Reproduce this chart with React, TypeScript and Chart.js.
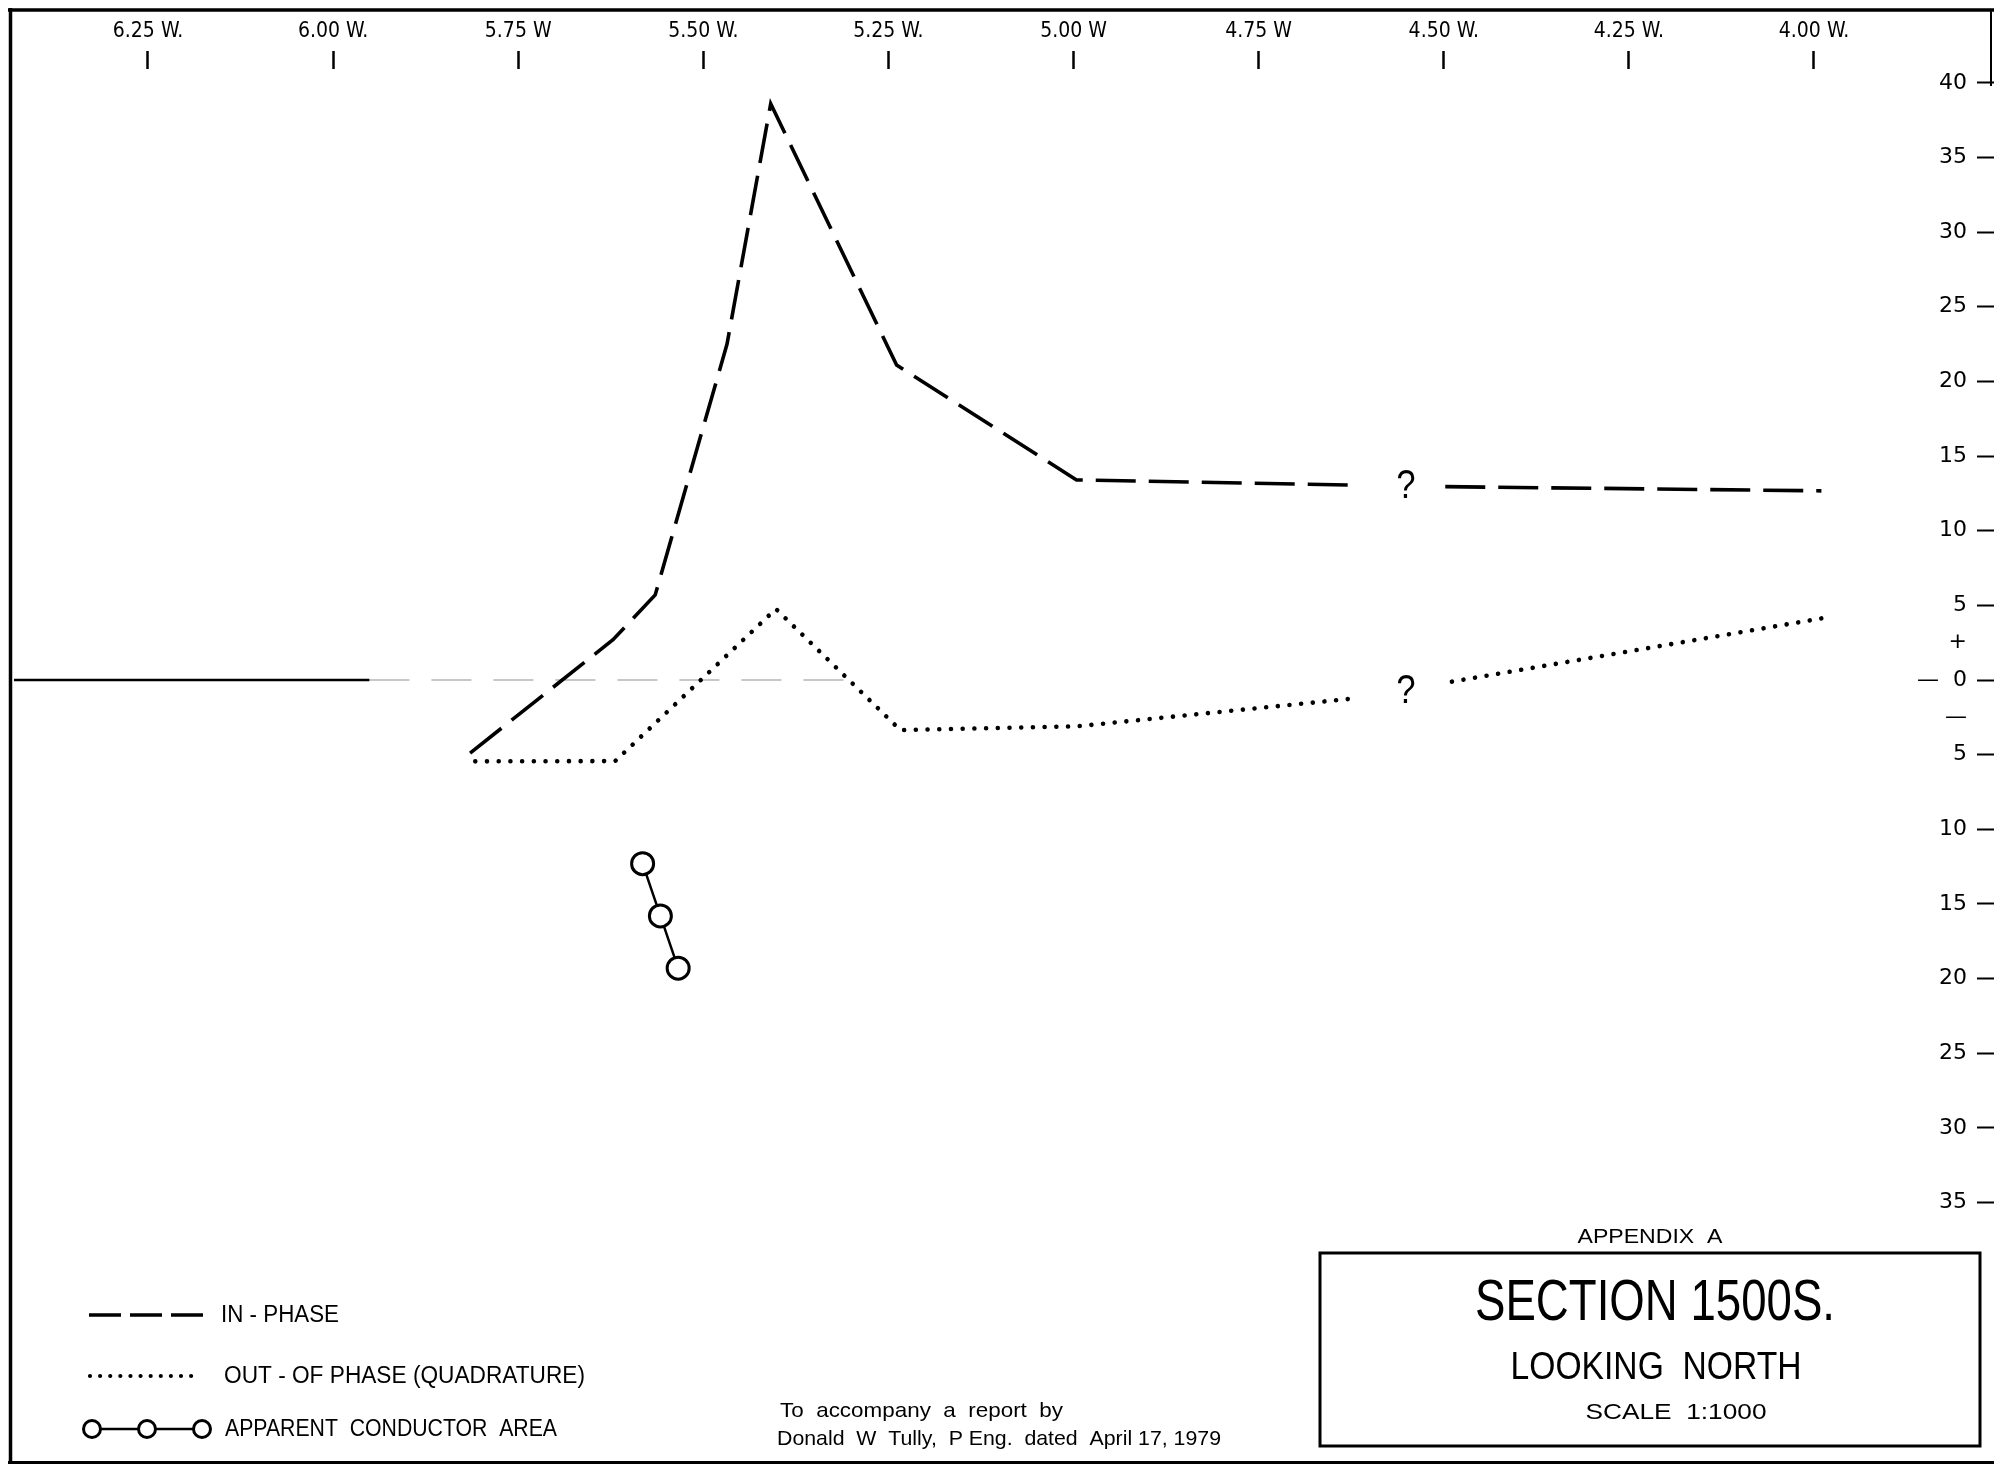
import React, { useEffect, useRef } from 'react';
import { Chart, registerables } from 'chart.js';

Chart.register(...registerables);

const CANVAS_W = 1994;
const CANVAS_H = 1467;

// ---- data (stations in W, response in %) ----
const xTickValues = [6.25, 6.0, 5.75, 5.5, 5.25, 5.0, 4.75, 4.5, 4.25, 4.0];
const xTickLabels = ['6.25 W.', '6.00 W.', '5.75 W', '5.50 W.', '5.25 W.', '5.00 W', '4.75 W', '4.50 W.', '4.25 W.', '4.00 W.'];

const yTickValues = [40, 35, 30, 25, 20, 15, 10, 5, 2.5, 0, -2.5, -5, -10, -15, -20, -25, -30, -35];
const yTickLabels = ['40', '35', '30', '25', '20', '15', '10', '5', '+', '—  0', '—', '5', '10', '15', '20', '25', '30', '35'];

const inPhaseStations = [5.815, 5.622, 5.565, 5.468, 5.409, 5.239, 4.996, 4.62, 4.551, 4.498, 3.99];
const inPhaseValues = [-4.9, 2.7, 5.7, 22.5, 38.6, 21.1, 13.4, 13.05, null, 12.95, 12.67];

const outPhaseStations = [5.808, 5.619, 5.402, 5.234, 4.995, 4.62, 4.551, 4.489, 3.987];
const outPhaseValues = [-5.45, -5.43, 4.76, -3.35, -3.1, -1.23, null, -0.11, 4.15];

const conductorStations = [5.582, 5.558, 5.534];
const conductorDepths = [-12.3, -15.8, -19.3];

const zeroSolidStations = [6.5, 5.951];
const zeroFaintStations = [5.951, 5.282];
const zeroValues = [0, 0];

const questionStation = 4.551;
const questionValues = [12.95, -0.8];

// axis calibration (sheet layout): where the first/last station ticks and the zero line sit
const X_FIRST_PX = 148;
const X_LAST_PX = 1814;
const Y_ZERO_PX = 680;
const Y_PX_PER_UNIT = 14.93;

const toPoints = (xs: number[], ys: (number | null)[]) => xs.map((x, i) => ({ x, y: ys[i] }));

const FONT = '"Liberation Sans", Arial, sans-serif';

function drawFit(ctx: CanvasRenderingContext2D, text: string, x: number, y: number, w: number, size: number, align: 'left' | 'center') {
  ctx.save();
  ctx.font = `${size}px ${FONT}`;
  const m = ctx.measureText(text).width;
  const sx = w / m;
  ctx.textBaseline = 'middle';
  ctx.textAlign = 'left';
  const left = align === 'center' ? x - w / 2 : x;
  ctx.translate(left, y);
  ctx.scale(sx, 1);
  ctx.fillStyle = '#000';
  ctx.fillText(text, 0, 0);
  ctx.restore();
}

const calibratePlugin = {
  id: 'calibrate',
  afterLayout(chart: any) {
    const xs = chart.scales.x;
    const ys = chart.scales.y;
    const first = xTickValues[0];
    const last = xTickValues[xTickValues.length - 1];
    const pxPerW = (X_LAST_PX - X_FIRST_PX) / (first - last);
    xs.max = first + (X_FIRST_PX - xs.left) / pxPerW;
    xs.min = xs.max - (xs.right - xs.left) / pxPerW;
    xs.configure();
    ys.max = (Y_ZERO_PX - ys.top) / Y_PX_PER_UNIT;
    ys.min = -(ys.bottom - Y_ZERO_PX) / Y_PX_PER_UNIT;
    ys.configure();
  },
};

const decorPlugin = {
  id: 'decor',
  afterDraw(chart: any) {
    const ctx: CanvasRenderingContext2D = chart.ctx;
    const xs = chart.scales.x;
    const ys = chart.scales.y;
    ctx.save();
    ctx.strokeStyle = '#000';
    ctx.fillStyle = '#000';

    // sheet frame
    ctx.lineWidth = 3.5;
    ctx.beginPath();
    ctx.moveTo(10.5, 8);
    ctx.lineTo(10.5, 1464);
    ctx.moveTo(8, 10);
    ctx.lineTo(1994, 10);
    ctx.stroke();
    ctx.lineWidth = 3;
    ctx.beginPath();
    ctx.moveTo(8, 1462.5);
    ctx.lineTo(1994, 1462.5);
    ctx.stroke();
    ctx.lineWidth = 2;
    ctx.beginPath();
    ctx.moveTo(1991, 9);
    ctx.lineTo(1991, 86);
    ctx.stroke();

    // question marks at the data gaps
    const qx = xs.getPixelForValue(questionStation);
    questionValues.forEach((v) => {
      const qy = ys.getPixelForValue(v);
      drawFit(ctx, '?', qx, qy, 19, 40, 'center');
    });

    // legend
    ctx.lineCap = 'butt';
    ctx.lineWidth = 3.6;
    ctx.setLineDash([32, 9]);
    ctx.beginPath();
    ctx.moveTo(89, 1315);
    ctx.lineTo(203, 1315);
    ctx.stroke();

    ctx.lineCap = 'round';
    ctx.lineWidth = 4.2;
    ctx.setLineDash([0.01, 10.1]);
    ctx.beginPath();
    ctx.moveTo(90, 1376);
    ctx.lineTo(201, 1376);
    ctx.stroke();
    ctx.setLineDash([]);
    ctx.lineCap = 'butt';

    ctx.lineWidth = 2.5;
    ctx.beginPath();
    ctx.moveTo(92, 1429);
    ctx.lineTo(202, 1429);
    ctx.stroke();
    [92, 147, 202].forEach((cx) => {
      ctx.beginPath();
      ctx.arc(cx, 1429, 8.5, 0, Math.PI * 2);
      ctx.fillStyle = '#fff';
      ctx.fill();
      ctx.lineWidth = 3;
      ctx.stroke();
    });
    ctx.fillStyle = '#000';

    drawFit(ctx, 'IN - PHASE', 221, 1316, 118, 23, 'left');
    drawFit(ctx, 'OUT - OF PHASE (QUADRATURE)', 224, 1377, 361, 23, 'left');
    drawFit(ctx, 'APPARENT  CONDUCTOR  AREA', 225, 1430, 332, 23, 'left');

    // note
    drawFit(ctx, 'To  accompany  a  report  by', 780, 1411, 283, 21, 'left');
    drawFit(ctx, 'Donald  W  Tully,  P Eng.  dated  April 17, 1979', 777, 1439, 444, 21, 'left');

    // title block
    drawFit(ctx, 'APPENDIX  A', 1650, 1237, 145, 21, 'center');
    ctx.lineWidth = 3;
    ctx.strokeRect(1320, 1253, 660, 193);
    drawFit(ctx, 'SECTION 1500S.', 1655, 1304, 360, 58, 'center');
    drawFit(ctx, 'LOOKING  NORTH', 1656, 1368, 291, 39, 'center');
    drawFit(ctx, 'SCALE  1:1000', 1676, 1413, 181, 22, 'center');

    ctx.restore();
  },
};

export default function App() {
  const ref = useRef<HTMLCanvasElement>(null);

  useEffect(() => {
    const canvas = ref.current;
    if (!canvas) return;
    const chart = new Chart(canvas, {
      type: 'line',
      data: {
        datasets: [
          {
            label: 'APPARENT CONDUCTOR AREA',
            data: toPoints(conductorStations, conductorDepths),
            borderColor: '#000',
            borderWidth: 2.5,
            pointRadius: 11,
            pointBorderWidth: 3,
            pointBackgroundColor: '#fff',
            pointBorderColor: '#000',
            tension: 0,
          },
          {
            label: 'IN-PHASE',
            data: toPoints(inPhaseStations, inPhaseValues),
            borderColor: '#000',
            borderWidth: 3.6,
            borderDash: [40, 13],
            pointRadius: 0,
            spanGaps: false,
            tension: 0,
          },
          {
            label: 'OUT-OF PHASE (QUADRATURE)',
            data: toPoints(outPhaseStations, outPhaseValues),
            borderColor: '#000',
            borderWidth: 4.6,
            borderDash: [0.01, 11.7],
            borderCapStyle: 'round',
            pointRadius: 0,
            spanGaps: false,
            tension: 0,
          },
          {
            label: 'zero',
            data: toPoints(zeroSolidStations, zeroValues),
            borderColor: '#000',
            borderWidth: 2.5,
            pointRadius: 0,
          },
          {
            label: 'zero-faint',
            data: toPoints(zeroFaintStations, zeroValues),
            borderColor: '#b5b5b5',
            borderWidth: 1.5,
            borderDash: [40, 22],
            pointRadius: 0,
          },
        ],
      },
      options: {
        responsive: false,
        maintainAspectRatio: false,
        animation: false,
        devicePixelRatio: 1,
        events: [],
        layout: { padding: { top: 17, right: 0, bottom: 20, left: 0 } },
        plugins: {
          legend: { display: false },
          tooltip: { enabled: false },
          title: { display: false },
        },
        scales: {
          x: {
            type: 'linear',
            position: 'top',
            reverse: true,
            min: 3.78,
            max: 6.45,
            afterBuildTicks: (s: any) => {
              s.ticks = xTickValues.map((v) => ({ value: v }));
            },
            afterFit: (s: any) => {
              s.height = 52;
              s.paddingLeft = 0;
              s.paddingRight = 0;
            },
            ticks: {
              autoSkip: false,
              maxRotation: 0,
              padding: 7,
              color: '#000',
              font: { family: '"DejaVu Sans Condensed", "Liberation Sans", sans-serif', size: 21 },
              callback: (_v: any, i: number) => xTickLabels[i],
            },
            grid: {
              drawOnChartArea: false,
              drawTicks: true,
              tickLength: 18,
              tickWidth: 2.5,
              tickColor: '#000',
            },
            border: { display: false },
          },
          y: {
            type: 'linear',
            position: 'right',
            min: -51.4,
            max: 40.9,
            afterBuildTicks: (s: any) => {
              s.ticks = yTickValues.map((v) => ({ value: v }));
            },
            afterFit: (s: any) => {
              s.width = 17;
              s.paddingTop = 0;
              s.paddingBottom = 0;
            },
            ticks: {
              mirror: true,
              padding: -10,
              autoSkip: false,
              color: '#000',
              font: { family: '"DejaVu Sans", sans-serif', size: 22 },
              callback: (_v: any, i: number) => yTickLabels[i],
            },
            grid: {
              drawOnChartArea: false,
              drawTicks: true,
              tickLength: 17,
              tickWidth: 2,
              tickColor: (c: any) => (c.tick && Math.abs(c.tick.value) === 2.5 ? 'rgba(0,0,0,0)' : '#000'),
            },
            border: { display: false },
          },
        },
      },
      plugins: [calibratePlugin, decorPlugin],
    } as any);
    return () => chart.destroy();
  }, []);

  return (
    <div style={{ position: 'fixed', left: 0, top: 0, width: CANVAS_W, height: CANVAS_H, background: '#fff' }}>
      <canvas ref={ref} width={CANVAS_W} height={CANVAS_H} style={{ display: 'block', width: CANVAS_W, height: CANVAS_H }} />
    </div>
  );
}
